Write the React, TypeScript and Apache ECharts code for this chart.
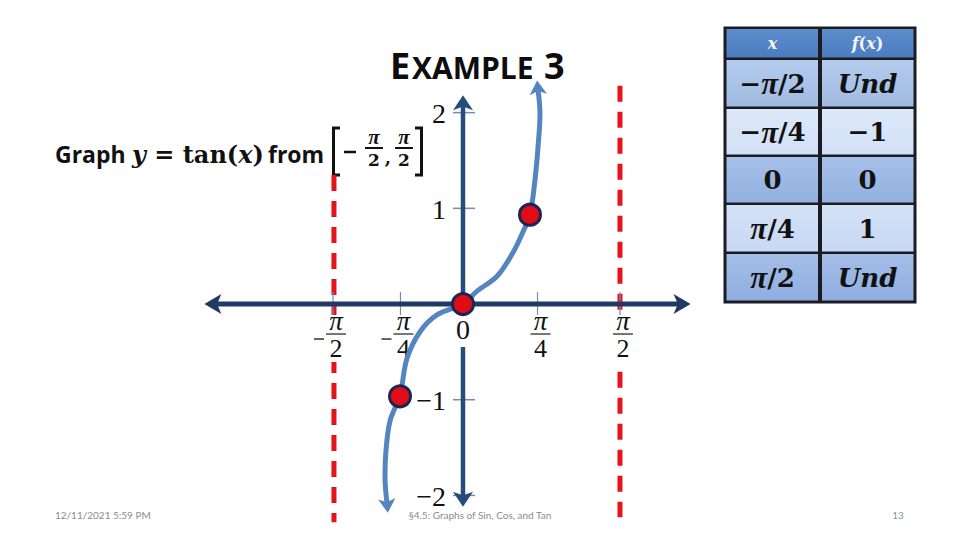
import React, { useEffect, useRef } from 'react';
import * as echarts from 'echarts';

// ---------- data ----------
// x is measured in the drawing's own pi/4 steps, y in function units
const X_RANGE = [-6.71, 7.203];
const Y_RANGE = [-2.466, 3.177];

const xTickPos = [-1.884, -0.906, 1.08, 2.275];
const xTickLabels = ['−π/2', '−π/4', 'π/4', 'π/2'];
const yTickPos = [2, 1, -1, -2];
const yTickLabels = ['2', '1', '−1', '−2'];
const zeroLabel = '0';

const xAxisExtent = [-3.77, 3.32];
const yAxisExtent = [-2.135, 2.197];

const asymptoteX = [-1.87, 2.275];
const asymptoteLow = [-2.28, -2.228];
const asymptoteHigh = [1.347, 2.28];

const curveX = [-1.087, -1.13, -1.116, -1.058, -0.913, -0.812, -0.623, -0.377, 0, 0.203, 0.493, 0.725, 0.87, 0.971, 1.043, 1.087, 1.116, 1.072];
const curveY = [-2.197, -1.813, -1.534, -1.223, -0.953, -0.57, -0.29, -0.114, 0, 0.135, 0.29, 0.539, 0.756, 0.933, 1.295, 1.637, 1.99, 2.352];

const pointX = [-0.913, 0, 0.971];
const pointY = [-0.964, 0, 0.933];

const tableHeader = ['x', 'f(x)'];
const tableX = ['−π/2', '−π/4', '0', 'π/4', 'π/2'];
const tableFx = ['Und', '−1', '0', '1', 'Und'];

const titleText = ['E', 'XAMPLE', '3'];
const footerDate = '12/11/2021 5:59 PM';
const footerTitle = '§4.5: Graphs of Sin, Cos, and Tan';
const footerPage = '13';

// ---------- styles ----------
const RED = '#e8121b';
const DOT = '#e00d16';
const CURVE = '#5585c1';
const H_AXIS = '#203a63';
const V_AXIS = '#264b7c';
const TICK = '#6f8fb8';
const DS = 'DejaVu Serif';
const LS = 'Liberation Serif';
const OS = 'Open Sans';
const ARROW_INSET = 1.5;

const kx = 960 / (X_RANGE[1] - X_RANGE[0]);
const ky = 540 / (Y_RANGE[1] - Y_RANGE[0]);
function inset(from: number[], to: number[], px: number) {
  const dx = (to[0] - from[0]) * kx;
  const dy = (to[1] - from[1]) * ky;
  const L = Math.hypot(dx, dy) || 1;
  return [to[0] - (dx / L) * px / kx, to[1] - (dy / L) * px / ky];
}

function axisSeries(a: number[], b: number[], color: string, width: number, size: number[]) {
  const s = inset(b, a, ARROW_INSET);
  const e = inset(a, b, ARROW_INSET);
  const ls = inset(b, a, size[1] * 0.6);
  const le = inset(a, b, size[1] * 0.6);
  return {
    type: 'line', z: 3, silent: true, symbol: 'none', data: [ls, le],
    lineStyle: { color, width },
    markLine: {
      z: 3, silent: true, symbol: ['arrow', 'arrow'], symbolSize: size,
      label: { show: false }, lineStyle: { color, width: 0.01, type: 'solid' },
      data: [[{ coord: s }, { coord: e }]],
    },
  };
}

function mathRich(s: string) {
  if (s === 'Und') return '{u|Und}';
  let out = '';
  let buf = '';
  for (const ch of s) {
    if (ch === 'π') {
      if (buf) out += '{b|' + buf + '}';
      buf = '';
      out += '{p|π}';
    } else buf += ch;
  }
  if (buf) out += '{b|' + buf + '}';
  return out;
}

function buildOption() {
  const curvePts = curveX.map((x, i) => [x, curveY[i]]);
  const n = curvePts.length;
  const lowTip = inset(curvePts[1], curvePts[0], ARROW_INSET);
  const highTip = inset(curvePts[n - 2], curvePts[n - 1], ARROW_INSET);
  const lowBase = inset(curvePts[1], curvePts[0], 9);
  const highBase = inset(curvePts[n - 2], curvePts[n - 1], 9);
  const body = [lowBase, ...curvePts.slice(1, n - 1), highBase];

  const series: any[] = [];
  asymptoteX.forEach((x, i) => {
    series.push({
      type: 'line', z: 1, silent: true, symbol: 'none',
      data: [[x, asymptoteHigh[i]], [x, asymptoteLow[i]]],
      lineStyle: { color: RED, width: 5, type: [16, 10] },
    });
  });
  // ticks
  series.push({
    type: 'custom', z: 2, silent: true, data: xTickPos.map((v) => [v, 0]),
    renderItem: (_p: any, api: any) => {
      const p = api.coord([api.value(0), api.value(1)]);
      return { type: 'line', shape: { x1: p[0], y1: p[1] - 12, x2: p[0], y2: p[1] + 13 }, style: { stroke: TICK, lineWidth: 1.2 } };
    },
  });
  series.push({
    type: 'custom', z: 2, silent: true, data: yTickPos.map((v) => [0, v]),
    renderItem: (_p: any, api: any) => {
      const p = api.coord([api.value(0), api.value(1)]);
      return { type: 'line', shape: { x1: p[0] - 10, y1: p[1], x2: p[0] + 12, y2: p[1] }, style: { stroke: TICK, lineWidth: 1.5 } };
    },
  });
  // axes
  series.push(axisSeries([xAxisExtent[0], 0], [xAxisExtent[1], 0], H_AXIS, 5, [15, 17]));
  series.push(axisSeries([0, yAxisExtent[0]], [0, yAxisExtent[1]], V_AXIS, 4.5, [15, 15]));
  // x labels
  series.push({
    type: 'custom', z: 4, silent: true, data: xTickPos.map((v) => [v, 0]),
    renderItem: (params: any, api: any) => {
      const i = params.dataIndex;
      const p = api.coord([api.value(0), 0]);
      const lab = xTickLabels[i];
      const neg = lab.charAt(0) === '−';
      const bodyTxt = neg ? lab.slice(1) : lab;
      const parts = bodyTxt.split('/');
      const cx = p[0] + 3;
      const y0 = p[1];
      const children: any[] = [
        { type: 'rect', shape: { x: cx - (neg ? 25 : 13), y: y0 + 11, width: neg ? 38 : 26, height: 47 }, style: { fill: '#ffffff' } },
        { type: 'text', style: { text: parts[0], x: cx, y: y0 + 17, align: 'center', verticalAlign: 'middle', fontFamily: LS, fontStyle: 'italic', fontSize: 27, fill: '#111' } },
        { type: 'line', shape: { x1: cx - 10, y1: y0 + 30, x2: cx + 10, y2: y0 + 30 }, style: { stroke: '#555', lineWidth: 1.6 } },
        { type: 'text', style: { text: parts[1], x: cx, y: y0 + 44, align: 'center', verticalAlign: 'middle', fontFamily: LS, fontSize: 26, fill: '#111' } },
      ];
      if (neg) children.push({ type: 'line', shape: { x1: cx - 22, y1: y0 + 35, x2: cx - 12, y2: y0 + 35 }, style: { stroke: '#222', lineWidth: 1.4 } });
      return { type: 'group', children };
    },
  });
  // y labels
  series.push({
    type: 'custom', z: 4, silent: true, data: yTickPos.map((v) => [0, v]),
    renderItem: (params: any, api: any) => {
      const p = api.coord([api.value(0), api.value(1)]);
      return { type: 'text', style: { text: yTickLabels[params.dataIndex], x: p[0] - 17, y: p[1] + 1, align: 'right', verticalAlign: 'middle', fontFamily: LS, fontSize: 28, fill: '#111' } };
    },
  });
  // zero label
  series.push({
    type: 'custom', z: 4, silent: true, data: [[0, 0]],
    renderItem: (_p: any, api: any) => {
      const p = api.coord([api.value(0), api.value(1)]);
      return {
        type: 'group', children: [
          { type: 'rect', shape: { x: p[0] - 8, y: p[1] + 5, width: 16, height: 38 }, style: { fill: '#ffffff' } },
          { type: 'text', style: { text: zeroLabel, x: p[0], y: p[1] + 25, align: 'center', verticalAlign: 'middle', fontFamily: LS, fontSize: 28, fill: '#111' } },
        ],
      };
    },
  });
  // curve
  series.push({
    type: 'line', z: 5, silent: true, symbol: 'none', smooth: 0.35, data: body,
    lineStyle: { color: CURVE, width: 5 },
    markLine: {
      z: 5, silent: true, symbol: ['none', 'arrow'], symbolSize: [13, 14],
      label: { show: false }, lineStyle: { color: CURVE, width: 0.01, type: 'solid' },
      data: [
        [{ coord: curvePts[1] }, { coord: lowTip }],
        [{ coord: curvePts[n - 2] }, { coord: highTip }],
      ],
    },
  });
  // points
  series.push({
    type: 'scatter', z: 6, silent: true, symbol: 'circle', symbolSize: 21,
    data: pointX.map((x, i) => [x, pointY[i]]),
    itemStyle: { color: DOT, borderColor: '#1c2456', borderWidth: 3, opacity: 1 },
  });

  // ---------- graphic: title, prompt, table, footer ----------
  const g: any[] = [];
  g.push({ type: 'text', x: 390, y: 65, style: { text: titleText[0], fontFamily: OS, fontWeight: 'bold', fontSize: 36, fill: '#0d0d0d', verticalAlign: 'middle' } });
  g.push({ type: 'text', x: 412, y: 67, style: { text: titleText[1], fontFamily: OS, fontWeight: 'bold', fontSize: 30, fill: '#0d0d0d', verticalAlign: 'middle' } });
  g.push({ type: 'text', x: 544, y: 65, style: { text: titleText[2], fontFamily: OS, fontWeight: 'bold', fontSize: 36, fill: '#0d0d0d', verticalAlign: 'middle' } });

  g.push({ type: 'text', x: 55, y: 154, style: { text: 'Graph', fontFamily: OS, fontWeight: 'bold', fontSize: 23, fill: '#111', verticalAlign: 'middle' } });
  g.push({
    type: 'text', x: 132, y: 154, style: {
      text: '{i|y}{b| = tan(}{i|x}{b|)}', verticalAlign: 'middle', fill: '#111',
      rich: {
        i: { fontFamily: DS, fontWeight: 'bold', fontStyle: 'italic', fontSize: 24, fill: '#111' },
        b: { fontFamily: DS, fontWeight: 'bold', fontSize: 24, fill: '#111' },
      },
    },
  });
  g.push({ type: 'text', x: 268, y: 154, style: { text: 'from', fontFamily: OS, fontWeight: 'bold', fontSize: 23, fill: '#111', verticalAlign: 'middle' } });
  g.push({ type: 'polyline', shape: { points: [[340, 128], [333.5, 128], [333.5, 175], [340, 175]] }, style: { stroke: '#111', lineWidth: 3, fill: 'none' } });
  g.push({ type: 'polyline', shape: { points: [[415, 128], [421.5, 128], [421.5, 175], [415, 175]] }, style: { stroke: '#111', lineWidth: 3, fill: 'none' } });
  g.push({ type: 'line', shape: { x1: 344, y1: 152, x2: 356, y2: 152 }, style: { stroke: '#111', lineWidth: 2.5 } });
  [374, 404].forEach((cx) => {
    g.push({ type: 'text', x: cx, y: 137, style: { text: 'π', fontFamily: LS, fontWeight: 'bold', fontStyle: 'italic', fontSize: 21, fill: '#111', align: 'center', verticalAlign: 'middle' } });
    g.push({ type: 'line', shape: { x1: cx - 9, y1: 148, x2: cx + 9, y2: 148 }, style: { stroke: '#111', lineWidth: 2 } });
    g.push({ type: 'text', x: cx, y: 160, style: { text: '2', fontFamily: DS, fontWeight: 'bold', fontSize: 17, fill: '#111', align: 'center', verticalAlign: 'middle' } });
  });
  g.push({ type: 'text', x: 388, y: 157, style: { text: ',', fontFamily: DS, fontWeight: 'bold', fontSize: 18, fill: '#111', align: 'center', verticalAlign: 'middle' } });

  // table
  const colX = [725, 820, 915];
  const rowY = [28, 59, 108, 156, 204, 253, 302];
  const rowColor = ['#4a7cc0', '#a0bbe3', '#d2e0f6', '#92b1e1', '#c6d8f4', '#8faee0'];
  const rowTop = ['#5f8dcb', '#b4cbec', '#dde8f9', '#a6c0e8', '#d4e2f7', '#a3bde6'];
  g.push({ type: 'rect', shape: { x: 723.5, y: 26.5, width: 193, height: 277 }, style: { fill: '#1b1c22' } });
  const richCell = {
    p: { fontFamily: LS, fontWeight: 'bold', fontStyle: 'italic', fontSize: 31, fill: '#111' },
    u: { fontFamily: DS, fontWeight: 'bold', fontStyle: 'italic', fontSize: 26, fill: '#111' },
    b: { fontFamily: DS, fontWeight: 'bold', fontSize: 26, fill: '#111' },
  };
  for (let r = 0; r < 6; r++) {
    for (let c = 0; c < 2; c++) {
      const x = colX[c] + (c === 0 ? 1.5 : 2);
      const w = colX[c + 1] - colX[c] - 3.5;
      const y = rowY[r] + 1;
      const h = rowY[r + 1] - rowY[r] - 2.5;
      g.push({
        type: 'rect', shape: { x, y, width: w, height: h },
        style: { fill: new echarts.graphic.LinearGradient(0, 0, 0, 1, [{ offset: 0, color: rowTop[r] }, { offset: 1, color: rowColor[r] }]) },
      });
      const cx = (colX[c] + colX[c + 1]) / 2;
      const cy = (rowY[r] + rowY[r + 1]) / 2;
      if (r === 0) {
        const t = tableHeader[c] === 'x' ? '{i|x}' : '{i|f}{b|(}{i|x}{b|)}';
        g.push({
          type: 'text', x: cx, y: cy, style: {
            text: t, align: 'center', verticalAlign: 'middle', fill: '#f4f6fb',
            rich: {
              i: { fontFamily: DS, fontWeight: 'bold', fontStyle: 'italic', fontSize: 16, fill: '#f4f6fb' },
              b: { fontFamily: DS, fontWeight: 'bold', fontSize: 16, fill: '#f4f6fb' },
            },
          },
        });
      } else {
        const s = c === 0 ? tableX[r - 1] : tableFx[r - 1];
        g.push({ type: 'text', x: cx, y: cy, style: { text: mathRich(s), align: 'center', verticalAlign: 'middle', fill: '#111', rich: richCell } });
      }
    }
  }

  // footer
  const ft = { fontFamily: 'Lato', fontSize: 10, fill: '#8c8c8c', verticalAlign: 'middle' };
  g.push({ type: 'text', x: 55, y: 515, z: 0, style: { ...ft, text: footerDate, align: 'left' } });
  g.push({ type: 'text', x: 480, y: 515, z: 0, style: { ...ft, text: footerTitle, align: 'center' } });
  g.push({ type: 'text', x: 898, y: 515, z: 0, style: { ...ft, text: footerPage, align: 'center' } });

  return {
    animation: false,
    backgroundColor: '#ffffff',
    grid: { left: 0, right: 0, top: 0, bottom: 0, containLabel: false },
    xAxis: { type: 'value', min: X_RANGE[0], max: X_RANGE[1], show: false },
    yAxis: { type: 'value', min: Y_RANGE[0], max: Y_RANGE[1], show: false },
    series,
    graphic: g,
  };
}

export default function App() {
  const ref = useRef<HTMLDivElement>(null);
  useEffect(() => {
    if (!ref.current) return;
    const chart = echarts.init(ref.current, undefined, { renderer: 'svg' });
    chart.setOption(buildOption() as any);
    return () => chart.dispose();
  }, []);
  return <div ref={ref} style={{ position: 'fixed', left: 0, top: 0, width: 960, height: 540, background: '#fff' }} />;
}
